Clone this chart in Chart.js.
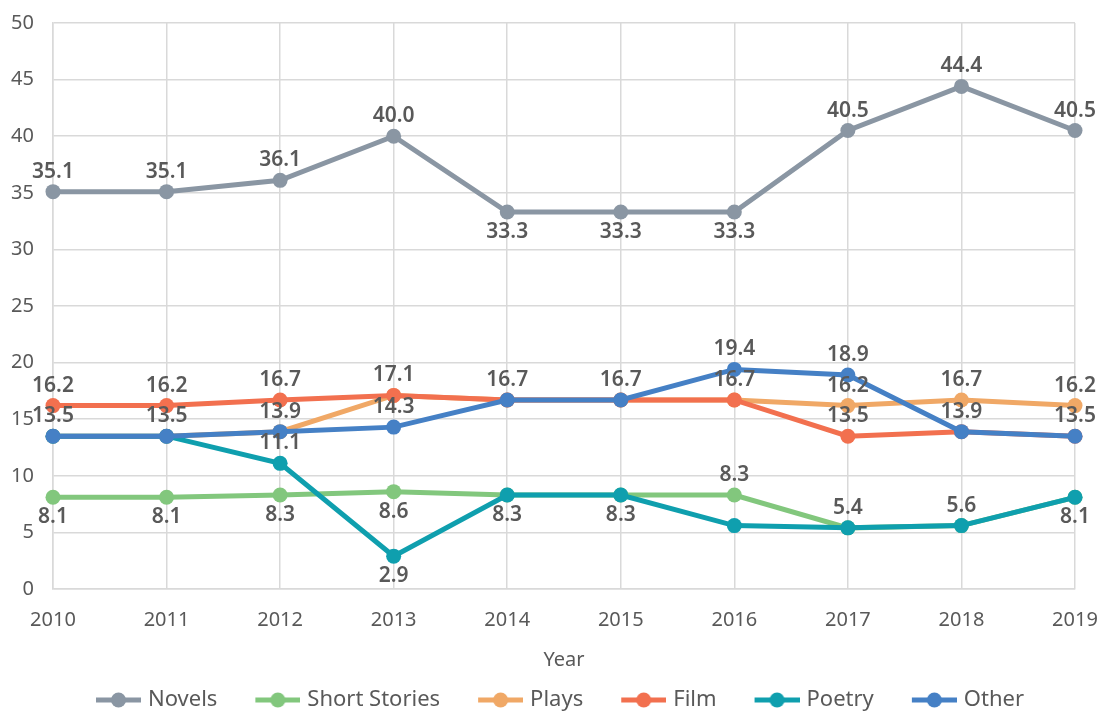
<!DOCTYPE html>
<html>
<head>
<meta charset="utf-8">
<title>Titles per year</title>
<script src="https://cdn.jsdelivr.net/npm/chart.js@4.4.1/dist/chart.umd.min.js"></script>
<style>
  html, body { margin: 0; padding: 0; background: #fff; }
  #wrap { width: 1099px; height: 711px; }
</style>
</head>
<body>
<div id="wrap"><canvas id="chart" width="1099" height="711"></canvas></div>
<script>
const years = ['2010', '2011', '2012', '2013', '2014', '2015', '2016', '2017', '2018', '2019'];

const novels       = [35.1, 35.1, 36.1, 40.0, 33.3, 33.3, 33.3, 40.5, 44.4, 40.5];
const shortStories = [8.1, 8.1, 8.3, 8.6, 8.3, 8.3, 8.3, 5.4, 5.6, 8.1];
const plays        = [13.5, 13.5, 13.9, 17.1, 16.7, 16.7, 16.7, 16.2, 16.7, 16.2];
const film         = [16.2, 16.2, 16.7, 17.1, 16.7, 16.7, 16.7, 13.5, 13.9, 13.5];
const poetry       = [13.5, 13.5, 11.1, 2.9, 8.3, 8.3, 5.6, 5.4, 5.6, 8.1];
const other        = [13.5, 13.5, 13.9, 14.3, 16.7, 16.7, 19.4, 18.9, 13.9, 13.5];

const seriesNames  = ['Novels', 'Short Stories', 'Plays', 'Film', 'Poetry', 'Other'];
const seriesValues = [novels, shortStories, plays, film, poetry, other];
const seriesColors = ['#8a96a3', '#82c77d', '#f0a866', '#f2704f', '#0f9fae', '#4580c5'];

// value labels: T = above the point, B = below, - = not shown (overlaps)
const labelSpots = [
  'TTTTBBBTTT',
  'BBBBBBT---',
  '-------TTT',
  'TTTT--TT--',
  '--TB---TTB',
  'TTTTTTTTTT',
];

const textColor = '#595959';
const gridColor = '#d9d9d9';
const fontFamily = '"Noto Sans", "DejaVu Sans", sans-serif';

// line + dot marker for the legend; blank room on the left works as item spacing
function legendMark(color) {
  const c = document.createElement('canvas');
  c.width = 83;
  c.height = 16;
  const g = c.getContext('2d');
  g.strokeStyle = color;
  g.lineWidth = 5;
  g.beginPath();
  g.moveTo(38, 8);
  g.lineTo(83, 8);
  g.stroke();
  g.fillStyle = color;
  g.beginPath();
  g.arc(60.5, 8, 7.5, 0, Math.PI * 2);
  g.fill();
  return c;
}
const legendMarks = seriesColors.map(legendMark);

const valueLabels = {
  id: 'valueLabels',
  afterDatasetsDraw(chart) {
    const ctx = chart.ctx;
    ctx.save();
    ctx.font = '600 21px ' + fontFamily;
    ctx.fillStyle = textColor;
    ctx.textAlign = 'center';
    ctx.textBaseline = 'middle';
    chart.data.datasets.forEach((ds, i) => {
      chart.getDatasetMeta(i).data.forEach((pt, j) => {
        const spot = labelSpots[i][j];
        if (spot === '-') return;
        const dy = spot === 'T' ? -20 : 20;
        ctx.fillText(ds.data[j].toFixed(1), pt.x, pt.y + dy);
      });
    });
    ctx.restore();
  }
};

const datasets = seriesNames.map((name, i) => ({
  label: name,
  data: seriesValues[i],
  borderColor: seriesColors[i],
  backgroundColor: seriesColors[i],
  pointBackgroundColor: seriesColors[i],
  borderWidth: 5,
  pointRadius: 7.5,
  pointBorderWidth: 0,
  tension: 0,
  clip: false,
  order: seriesNames.length - i, // later series drawn on top
}));

new Chart(document.getElementById('chart'), {
  type: 'line',
  data: { labels: years, datasets: datasets },
  plugins: [valueLabels],
  options: {
    responsive: false,
    animation: false,
    layout: { padding: { top: 23, right: 24, bottom: -10, left: 11 } },
    plugins: {
      tooltip: { enabled: false },
      legend: {
        position: 'bottom',
        labels: {
          usePointStyle: true,
          pointStyleWidth: 75,
          padding: 4,
          color: textColor,
          font: { family: fontFamily, size: 22 },
          sort: (a, b) => a.datasetIndex - b.datasetIndex,
          generateLabels: chart =>
            Chart.defaults.plugins.legend.labels.generateLabels(chart).map(item => ({
              ...item,
              pointStyle: legendMarks[item.datasetIndex],
            })),
        },
      },
    },
    scales: {
      x: {
        offset: false,
        grid: { color: gridColor, lineWidth: 1.5, drawTicks: false },
        border: { color: gridColor, width: 1.5 },
        ticks: { color: textColor, padding: 19, font: { family: fontFamily, size: 20 } },
        title: {
          display: true,
          text: 'Year',
          color: textColor,
          font: { family: fontFamily, size: 20 },
          padding: { top: 0, bottom: 13 },
        },
        afterFit: s => {
          s.height = 96;
          s.paddingLeft = 0;
          s.paddingRight = 0;
        },
      },
      y: {
        min: 0,
        max: 50,
        grid: { color: gridColor, lineWidth: 1.5, drawTicks: false },
        border: { color: gridColor, width: 1.5 },
        ticks: { stepSize: 5, color: textColor, padding: 19, font: { family: fontFamily, size: 20 } },
        afterFit: s => {
          s.width = 42;
          s.paddingTop = 0;
          s.paddingBottom = 0;
        },
      },
    },
  },
});
</script>
</body>
</html>
